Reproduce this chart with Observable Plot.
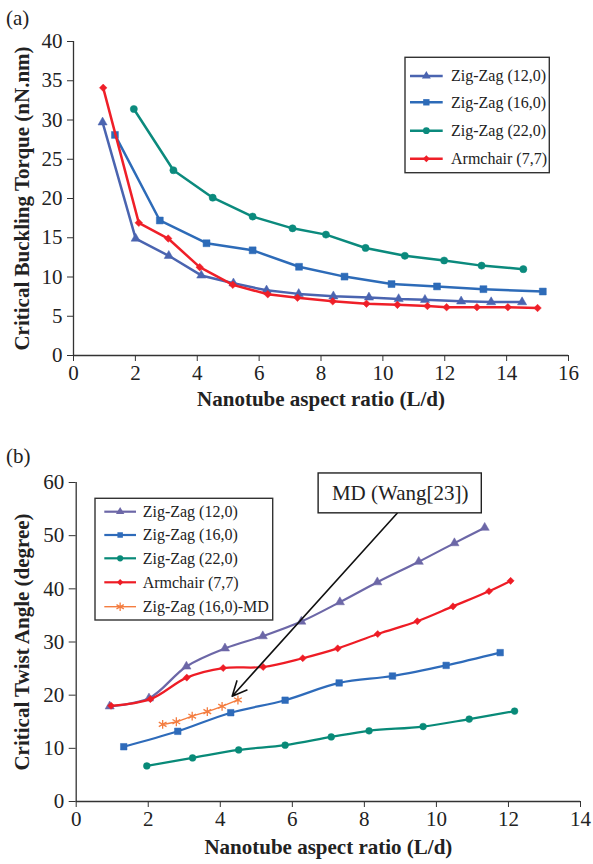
<!DOCTYPE html>
<html>
<head>
<meta charset="utf-8">
<script src="https://cdn.jsdelivr.net/npm/d3@7"></script>
<script src="https://cdn.jsdelivr.net/npm/@observablehq/plot@0.6"></script>
<style>
  html, body { margin: 0; padding: 0; background: white; }
  #wrap { width: 593px; height: 864px; }
  #wrap svg { display: block; font-family: "Liberation Serif", "Times New Roman", Times, serif; }
  #wrap svg text { font-family: "Liberation Serif", "Times New Roman", Times, serif; }
</style>
</head>
<body>
<div id="wrap"></div>
<script>
// ---------- Panel (a): Critical buckling torque ----------
const xTicksA = [0, 2, 4, 6, 8, 10, 12, 14, 16];
const yTicksA = [0, 5, 10, 15, 20, 25, 30, 35, 40];
const zz12aX = [0.94, 2.01, 3.08, 4.13, 5.17, 6.24, 7.28, 8.40, 9.55, 10.51, 11.36, 12.53, 13.5, 14.5];
const zz12aY = [29.7, 14.9, 12.7, 10.2, 9.2, 8.3, 7.85, 7.55, 7.4, 7.2, 7.1, 6.9, 6.8, 6.8];
const zz16aX = [1.34, 2.79, 4.30, 5.79, 7.29, 8.76, 10.28, 11.75, 13.25, 15.17];
const zz16aY = [28.1, 17.2, 14.3, 13.4, 11.3, 10.05, 9.1, 8.8, 8.45, 8.15];
const zz22aX = [1.95, 3.23, 4.50, 5.79, 7.08, 8.16, 9.44, 10.71, 11.98, 13.19, 14.54];
const zz22aY = [31.4, 23.6, 20.1, 17.7, 16.2, 15.4, 13.7, 12.7, 12.1, 11.45, 11.0];
const ac77aX = [0.96, 2.11, 3.06, 4.08, 5.15, 6.28, 7.24, 8.38, 9.47, 10.47, 11.44, 12.06, 13.04, 14.04, 15.0];
const ac77aY = [34.1, 16.9, 14.9, 11.25, 9.0, 7.8, 7.35, 6.9, 6.6, 6.45, 6.3, 6.15, 6.15, 6.15, 6.05];
const namesA = ["Zig-Zag (12,0)", "Zig-Zag (16,0)", "Zig-Zag (22,0)", "Armchair (7,7)"];
const titleXA = "Nanotube aspect ratio (L/d)";
const titleYA = "Critical Buckling Torque (nN.nm)";

// ---------- Panel (b): Critical twist angle ----------
const xTicksB = [0, 2, 4, 6, 8, 10, 12, 14];
const yTicksB = [0, 10, 20, 30, 40, 50, 60];
const zz12bX = [0.93, 2.02, 3.06, 4.13, 5.18, 6.25, 7.32, 8.36, 9.51, 10.5, 11.34];
const zz12bY = [17.9, 19.4, 25.4, 28.8, 31.1, 33.85, 37.5, 41.25, 45.1, 48.6, 51.5];
const zz16bX = [1.32, 2.82, 4.29, 5.80, 7.30, 8.78, 10.27, 11.77];
const zz16bY = [10.3, 13.2, 16.7, 19.05, 22.3, 23.6, 25.6, 28.0];
const zz22bX = [1.96, 3.23, 4.51, 5.80, 7.08, 8.13, 9.63, 10.91, 12.17];
const zz22bY = [6.7, 8.2, 9.7, 10.6, 12.15, 13.3, 14.1, 15.5, 17.0];
const ac77bX = [0.97, 2.06, 3.07, 4.08, 5.19, 6.29, 7.26, 8.37, 9.47, 10.46, 11.46, 12.06];
const ac77bY = [18.0, 19.25, 23.3, 25.1, 25.3, 26.95, 28.8, 31.5, 33.9, 36.7, 39.55, 41.5];
const mdbX = [2.40, 2.78, 3.22, 3.64, 4.05, 4.49];
const mdbY = [14.5, 15.0, 16.05, 16.9, 17.9, 19.1];
const namesB = ["Zig-Zag (12,0)", "Zig-Zag (16,0)", "Zig-Zag (22,0)", "Armchair (7,7)", "Zig-Zag (16,0)-MD"];
const titleXB = "Nanotube aspect ratio (L/d)";
const titleYB = "Critical Twist Angle (degree)";
// annotation (data coordinates)
const noteLabel = ["MD (Wang[23])"];
const noteBoxX = [6.73, 11.26];
const noteBoxY = [54.2, 61.7];
const noteArrowFrom = [8.91, 54.2];
const noteArrowTo = [4.33, 19.8];

const zip = (xs, ys) => xs.map((x, i) => ({x, y: ys[i]}));

function seriesMarks(xs, ys, color, symbol, r, sw, curve, strokeSym) {
  const data = zip(xs, ys);
  const dotOpts = strokeSym
    ? {x: "x", y: "y", symbol, r, stroke: color, strokeWidth: 1.3, fill: "none"}
    : {x: "x", y: "y", symbol, r, fill: color, stroke: color, strokeWidth: 0.5};
  return [
    Plot.line(data, {x: "x", y: "y", stroke: color, strokeWidth: sw, curve}),
    Plot.dot(data, dotOpts)
  ];
}

function addLegend(svg, items, o) {
  const g = d3.select(svg).append("g");
  g.append("rect").attr("x", o.x).attr("y", o.y).attr("width", o.w).attr("height", o.h)
    .attr("fill", "white").attr("stroke", "#333").attr("stroke-width", 1.4);
  items.forEach((it, i) => {
    const cy = o.rows[i];
    g.append("line").attr("x1", o.l1).attr("x2", o.l2).attr("y1", cy).attr("y2", cy)
      .attr("stroke", it.color).attr("stroke-width", it.sw);
    const p = g.append("path")
      .attr("transform", `translate(${(o.l1 + o.l2) / 2},${cy})`)
      .attr("d", d3.symbol(it.sym, it.size)());
    if (it.strokeSym) p.attr("fill", "none").attr("stroke", it.color).attr("stroke-width", 1.3);
    else p.attr("fill", it.color);
    g.append("text").attr("x", o.tx).attr("y", cy).attr("dy", "0.33em")
      .attr("text-anchor", "start").style("font-size", "16px").attr("fill", "#222")
      .text(it.name);
  });
}

function addPanelLabel(svg, txt, x, y) {
  d3.select(svg).append("text").attr("x", x).attr("y", y).attr("text-anchor", "start")
    .style("font-size", "21px").attr("fill", "#222").text(txt);
}

// colours
const cA = ["#4a64b0", "#2d6bb8", "#0b8a7d", "#ef1f28"];
const cB = ["#6c67a7", "#2e6bba", "#088a78", "#ee1c25", "#f47d40"];

const plotA = Plot.plot({
  width: 593, height: 432,
  marginLeft: 73, marginRight: 25, marginTop: 41, marginBottom: 77,
  x: {domain: [0, 16]},
  y: {domain: [0, 40]},
  style: {fontSize: "21px", color: "#222", background: "white"},
  marks: [
    Plot.axisX({ticks: xTicksA, tickSize: 6, tickPadding: 4, fontSize: 21, label: null, stroke: "#333"}),
    Plot.axisY({ticks: yTicksA, tickSize: 6, tickPadding: 5, fontSize: 21, label: null, stroke: "#333"}),
    Plot.ruleX([0], {stroke: "#333", strokeWidth: 1.3}),
    Plot.ruleY([0], {stroke: "#333", strokeWidth: 1.3}),
    ...seriesMarks(zz12aX, zz12aY, cA[0], "triangle", 3.4, 2.5, "linear"),
    ...seriesMarks(zz16aX, zz16aY, cA[1], "square", 3.9, 2.5, "linear"),
    ...seriesMarks(zz22aX, zz22aY, cA[2], "circle", 3.6, 2.5, "linear"),
    ...seriesMarks(ac77aX, ac77aY, cA[3], "diamond2", 3.4, 2.5, "linear"),
    Plot.text([titleXA], {text: d => d, frameAnchor: "bottom", textAnchor: "middle", dy: 50, fontWeight: "bold", fontSize: 21}),
    Plot.text([titleYA], {text: d => d, frameAnchor: "left", textAnchor: "middle", dx: -51, rotate: -90, fontWeight: "bold", fontSize: 21})
  ]
});
addLegend(plotA, [
  {name: namesA[0], color: cA[0], sym: d3.symbolTriangle, size: 34, sw: 2.5},
  {name: namesA[1], color: cA[1], sym: d3.symbolSquare, size: 40, sw: 2.5},
  {name: namesA[2], color: cA[2], sym: d3.symbolCircle, size: 36, sw: 2.5},
  {name: namesA[3], color: cA[3], sym: d3.symbolDiamond2, size: 30, sw: 2.5}
], {x: 405, y: 57.3, w: 144.3, h: 115.4, rows: [76, 102.3, 130.7, 158.7], l1: 410, l2: 442.7, tx: 451});
addPanelLabel(plotA, "(a)", 6, 25);

const noteData = [{x1: noteBoxX[0], x2: noteBoxX[1], y1: noteBoxY[0], y2: noteBoxY[1], label: noteLabel[0],
  ax1: noteArrowFrom[0], ay1: noteArrowFrom[1], ax2: noteArrowTo[0], ay2: noteArrowTo[1]}];

const plotB = Plot.plot({
  width: 593, height: 432,
  marginLeft: 75.7, marginRight: 13, marginTop: 50, marginBottom: 63,
  x: {domain: [0, 14]},
  y: {domain: [0, 60]},
  style: {fontSize: "21px", color: "#222", background: "white"},
  marks: [
    Plot.axisX({ticks: xTicksB, tickSize: 6, tickPadding: 4, fontSize: 21, label: null, stroke: "#333"}),
    Plot.axisY({ticks: yTicksB, tickSize: 7, tickPadding: 5, fontSize: 21, label: null, stroke: "#333"}),
    Plot.ruleX([0], {stroke: "#333", strokeWidth: 1.3}),
    Plot.ruleY([0], {stroke: "#333", strokeWidth: 1.3}),
    ...seriesMarks(zz12bX, zz12bY, cB[0], "triangle", 3.4, 2.2, "catmull-rom"),
    ...seriesMarks(zz16bX, zz16bY, cB[1], "square", 3.7, 2.2, "catmull-rom"),
    ...seriesMarks(zz22bX, zz22bY, cB[2], "circle", 3.4, 2.2, "catmull-rom"),
    ...seriesMarks(ac77bX, ac77bY, cB[3], "diamond2", 3.2, 2.2, "catmull-rom"),
    ...seriesMarks(mdbX, mdbY, cB[4], "asterisk", 4.2, 1.4, "catmull-rom", true),
    Plot.arrow(noteData, {x1: "ax1", y1: "ay1", x2: "ax2", y2: "ay2", stroke: "#111", strokeWidth: 1.6, headLength: 15, headAngle: 50}),
    Plot.rect(noteData, {x1: "x1", x2: "x2", y1: "y1", y2: "y2", fill: "white", stroke: "#222", strokeWidth: 1.4}),
    Plot.text(noteData, {x: d => (d.x1 + d.x2) / 2, y: d => (d.y1 + d.y2) / 2, text: "label", fontSize: 21}),
    Plot.text([titleXB], {text: d => d, frameAnchor: "bottom", textAnchor: "middle", dy: 52, fontWeight: "bold", fontSize: 21}),
    Plot.text([titleYB], {text: d => d, frameAnchor: "left", textAnchor: "middle", dx: -54, rotate: -90, fontWeight: "bold", fontSize: 21})
  ]
});
addLegend(plotB, [
  {name: namesB[0], color: cB[0], sym: d3.symbolTriangle, size: 30, sw: 2.2},
  {name: namesB[1], color: cB[1], sym: d3.symbolSquare, size: 30, sw: 2.2},
  {name: namesB[2], color: cB[2], sym: d3.symbolCircle, size: 30, sw: 2.2},
  {name: namesB[3], color: cB[3], sym: d3.symbolDiamond2, size: 26, sw: 2.2},
  {name: namesB[4], color: cB[4], sym: d3.symbolAsterisk, size: 50, sw: 1.4, strokeSym: true}
], {x: 95, y: 66.3, w: 177.7, h: 121.7, rows: [79.7, 103, 126.3, 150.3, 174.7], l1: 104.3, l2: 136, tx: 142.7});
addPanelLabel(plotB, "(b)", 6, 31);

const wrap = document.getElementById("wrap");
wrap.appendChild(plotA);
wrap.appendChild(plotB);
</script>
</body>
</html>
